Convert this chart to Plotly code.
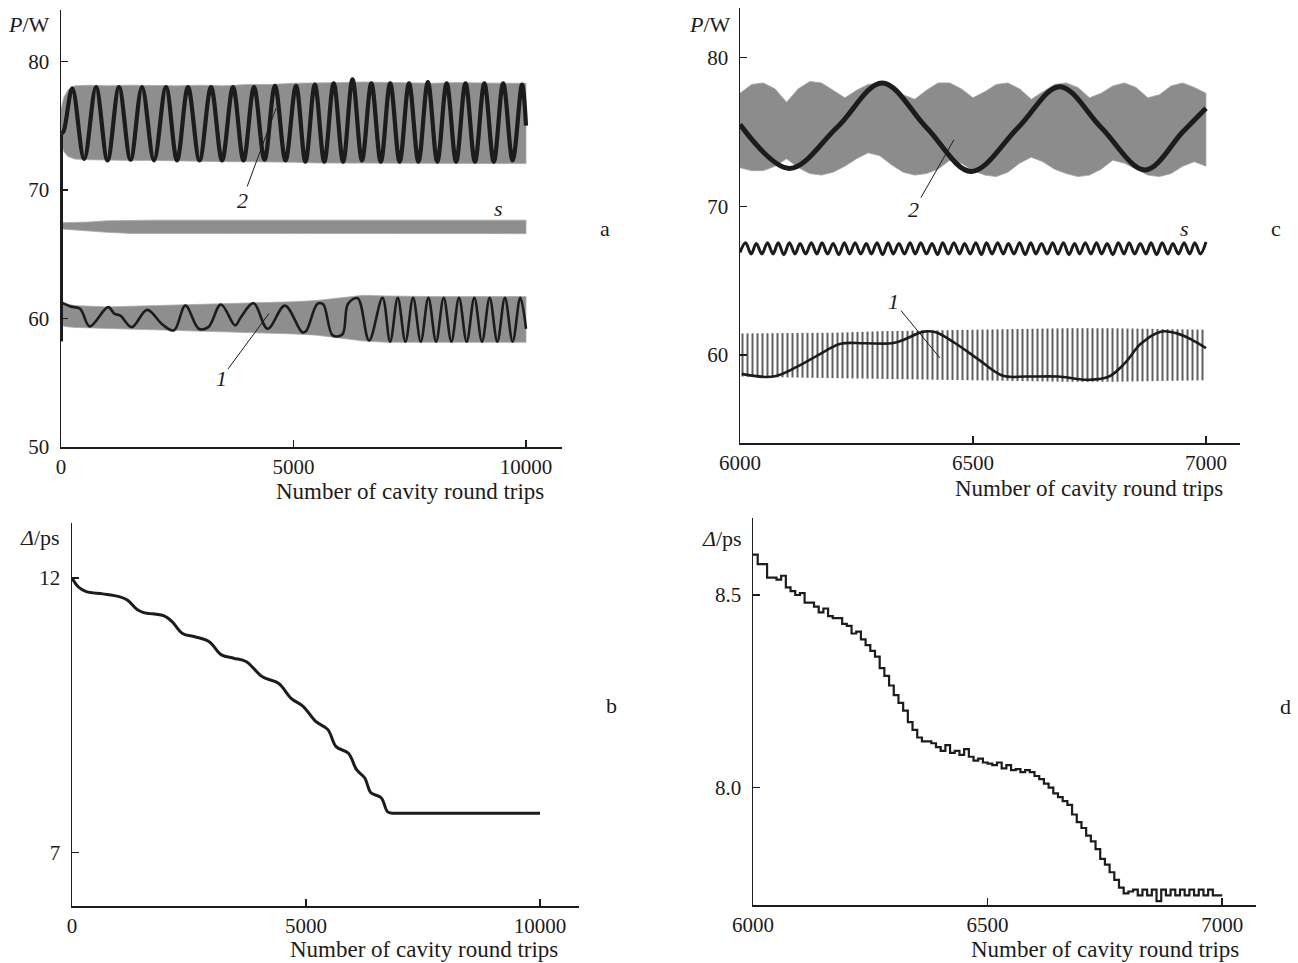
import plotly.graph_objects as go

W, H = 1298, 963

# ---------------- data: panel a (P vs round trips, 0..10000) ----------------
a_band_x = [0, 60, 150, 300, 600, 1000, 1500, 2000, 2500, 3000, 3500, 4000, 4500,
            5000, 5500, 6000, 6500, 7000, 7500, 8000, 8500, 9000, 9500, 10000]
a2_band_hi = [76.3, 77.2, 77.8, 78.1, 78.15, 78.1, 78.15, 78.1, 78.1, 78.15, 78.1, 78.2,
              78.2, 78.3, 78.3, 78.35, 78.4, 78.35, 78.35, 78.3, 78.35, 78.3, 78.3, 78.3]
a2_band_lo = [73.8, 73.0, 72.6, 72.4, 72.35, 72.3, 72.3, 72.3, 72.25, 72.25, 72.2, 72.2,
              72.2, 72.15, 72.1, 72.1, 72.1, 72.05, 72.05, 72.05, 72.05, 72.05, 72.05, 72.05]
as_band_hi = [67.45, 67.45, 67.45, 67.45, 67.5, 67.6, 67.65, 67.65, 67.65, 67.65, 67.65, 67.65,
              67.65, 67.65, 67.65, 67.65, 67.65, 67.65, 67.65, 67.65, 67.65, 67.65, 67.65, 67.65]
as_band_lo = [67.0, 66.95, 66.9, 66.9, 66.8, 66.7, 66.62, 66.6, 66.6, 66.6, 66.6, 66.6,
              66.6, 66.6, 66.6, 66.6, 66.6, 66.6, 66.6, 66.6, 66.6, 66.6, 66.6, 66.6]
a1_band_hi = [61.3, 61.2, 61.1, 61.0, 60.95, 60.9, 60.95, 61.0, 61.0, 61.1, 61.15, 61.2,
              61.25, 61.3, 61.4, 61.6, 61.8, 61.75, 61.7, 61.7, 61.7, 61.7, 61.7, 61.7]
a1_band_lo = [59.6, 59.4, 59.35, 59.3, 59.25, 59.2, 59.15, 59.1, 59.05, 59.05, 59.0, 58.95,
              58.85, 58.8, 58.7, 58.5, 58.25, 58.15, 58.15, 58.15, 58.15, 58.15, 58.15, 58.15]

a_init_x = [0, 0]
a_init_y = [58.2, 74.4]

a2_x = [15, 60, 243, 498, 753, 1000, 1247, 1495, 1742, 2000, 2258, 2495, 2731, 2979, 3226,
        3463, 3699, 3925, 4151, 4377, 4602, 4828, 5054, 5257, 5459, 5662, 5864, 6067, 6269,
        6472, 6674, 6877, 7079, 7282, 7484, 7687, 7889, 8092, 8294, 8497, 8699, 8902, 9104,
        9307, 9509, 9712, 9914, 10000]
a2_y = [74.4, 74.6, 77.9, 72.4, 78.0, 72.3, 78.0, 72.35, 78.0, 72.3, 78.0, 72.3, 78.0, 72.3, 78.0,
        72.3, 78.0, 72.3, 78.0, 72.35, 78.1, 72.3, 78.1, 72.2, 78.2, 72.2, 78.3, 72.2, 78.6,
        72.3, 78.3, 72.2, 78.3, 72.2, 78.3, 72.2, 78.4, 72.2, 78.3, 72.2, 78.3, 72.2, 78.3,
        72.2, 78.3, 72.3, 78.2, 75.0]

a1_x = [10, 206, 411, 617, 1012, 1152, 1276, 1522, 1852, 2181, 2428, 2675, 2963, 3169, 3440,
        3745, 3868, 4140, 4444, 4815, 5185, 5267, 5514, 5638, 5843, 6049, 6173, 6378, 6625,
        6913, 7078, 7242, 7407, 7572, 7737, 7901, 8066, 8230, 8395, 8559, 8724, 8889, 9054,
        9218, 9383, 9547, 9712, 9877, 10000]
a1_y = [61.25, 60.93, 60.75, 59.38, 60.88, 60.36, 60.23, 59.33, 60.67, 59.53, 59.07, 61.01, 59.2,
        59.33, 61.09, 59.46, 60.1, 61.19, 59.2, 61.0, 58.93, 59.0, 61.14, 61.1, 58.68, 58.75,
        61.14, 61.58, 58.29, 61.6, 58.2, 61.6, 58.2, 61.6, 58.2, 61.6, 58.2, 61.6, 58.2, 61.6,
        58.2, 61.6, 58.2, 61.6, 58.2, 61.6, 58.2, 61.6, 59.2]

# ---------------- data: panel c (P vs round trips, 6000..7000) ----------------
c2_band_x = [6000, 6025, 6050, 6075, 6100, 6125, 6150, 6175, 6200, 6225, 6250, 6275, 6300, 6325,
             6350, 6375, 6400, 6425, 6450, 6475, 6500, 6525, 6550, 6575, 6600, 6625, 6650, 6675,
             6700, 6725, 6750, 6775, 6800, 6825, 6850, 6875, 6900, 6925, 6950, 6975, 7000]
c2_band_hi = [77.6, 78.2, 78.3, 77.9, 77.0, 77.9, 78.4, 78.3, 77.8, 77.3, 77.8, 78.2, 78.3, 78.0,
              77.5, 77.2, 77.8, 78.3, 78.3, 77.9, 77.3, 77.7, 78.2, 78.3, 77.9, 77.2, 77.7, 78.2,
              78.3, 78.0, 77.3, 77.6, 78.1, 78.3, 78.0, 77.3, 77.5, 78.1, 78.3, 78.0, 77.6]
c2_band_lo = [72.6, 72.4, 72.4, 72.7, 73.2, 72.6, 72.2, 72.1, 72.3, 72.7, 73.2, 73.6, 73.4, 72.8,
              72.3, 72.1, 72.2, 72.5, 73.1, 72.9, 72.4, 72.1, 72.0, 72.3, 72.9, 73.3, 73.0, 72.5,
              72.2, 72.0, 72.1, 72.5, 73.1, 72.9, 72.5, 72.1, 72.0, 72.2, 72.7, 73.0, 72.7]

c1_band_x = [6000, 6100, 6200, 6300, 6400, 6500, 6600, 6700, 6800, 6900, 7000]
c1_band_hi = [61.45, 61.45, 61.5, 61.6, 61.65, 61.75, 61.8, 61.8, 61.8, 61.75, 61.7]
c1_band_lo = [58.55, 58.5, 58.45, 58.4, 58.35, 58.3, 58.25, 58.2, 58.2, 58.25, 58.3]

c2_x = [6000, 6106, 6208, 6305, 6400, 6496, 6597, 6686, 6775, 6869, 6950, 7000]
c2_y = [75.5, 72.55, 75.3, 78.3, 75.3, 72.35, 75.3, 78.05, 75.3, 72.45, 75.0, 76.6]

cs_x = [6000, 6012, 6024, 6035, 6047, 6059, 6071, 6082, 6094, 6106,
        6118, 6129, 6141, 6153, 6165, 6176, 6188, 6200, 6212, 6224,
        6235, 6247, 6259, 6271, 6282, 6294, 6306, 6318, 6329, 6341,
        6353, 6365, 6376, 6388, 6400, 6412, 6424, 6435, 6447, 6459,
        6471, 6482, 6494, 6506, 6518, 6529, 6541, 6553, 6565, 6576,
        6588, 6600, 6612, 6624, 6635, 6647, 6659, 6671, 6682, 6694,
        6706, 6718, 6729, 6741, 6753, 6765, 6776, 6788, 6800, 6812,
        6824, 6835, 6847, 6859, 6871, 6882, 6894, 6906, 6918, 6929,
        6941, 6953, 6965, 6976, 6988, 7000]
cs_y = [66.9, 67.55, 66.8, 67.5, 66.8, 67.55, 66.8, 67.55, 66.75, 67.55,
        66.8, 67.5, 66.8, 67.55, 66.8, 67.55, 66.8, 67.5, 66.75, 67.55,
        66.8, 67.55, 66.8, 67.5, 66.8, 67.55, 66.75, 67.55, 66.8, 67.5,
        66.8, 67.55, 66.8, 67.55, 66.8, 67.5, 66.75, 67.55, 66.8, 67.55,
        66.8, 67.5, 66.8, 67.55, 66.75, 67.55, 66.8, 67.55, 66.8, 67.5,
        66.8, 67.55, 66.75, 67.55, 66.8, 67.5, 66.8, 67.55, 66.8, 67.55,
        66.75, 67.5, 66.8, 67.55, 66.8, 67.55, 66.8, 67.5, 66.75, 67.55,
        66.8, 67.55, 66.8, 67.5, 66.8, 67.55, 66.75, 67.55, 66.8, 67.5,
        66.8, 67.55, 66.8, 67.55, 66.8, 67.6]

c1_x = [6004, 6072, 6123, 6165, 6216, 6267, 6326, 6347, 6394, 6420, 6462, 6513, 6564, 6614,
        6682, 6750, 6792, 6826, 6860, 6903, 6936, 6970, 7000]
c1_y = [58.73, 58.55, 59.22, 59.94, 60.75, 60.79, 60.79, 60.97, 61.57, 61.53, 60.79, 59.67,
        58.6, 58.55, 58.55, 58.33, 58.55, 59.45, 60.75, 61.57, 61.47, 61.02, 60.46]

# ---------------- data: panel b (Delta vs round trips, 0..10000) ----------------
b_x = [0, 131, 306, 656, 1006, 1181, 1400, 1531, 1969, 2143, 2362, 2625, 2931, 3193, 3456,
       3718, 4068, 4418, 4681, 4943, 5206, 5468, 5643, 5906, 6081, 6256, 6387, 6606, 6737,
       6824, 7000, 7500, 8000, 8500, 9000, 9500, 10000]
b_y = [12.0, 11.84, 11.75, 11.71, 11.66, 11.6, 11.42, 11.37, 11.31, 11.2, 10.99, 10.93, 10.84,
       10.6, 10.54, 10.48, 10.2, 10.08, 9.81, 9.66, 9.39, 9.24, 8.93, 8.81, 8.51, 8.36, 8.09,
       8.0, 7.75, 7.72, 7.72, 7.72, 7.72, 7.72, 7.72, 7.72, 7.72]

# ---------------- data: panel d (Delta vs round trips, 6000..7000) ----------------
d_x = list(range(6000, 7001, 10))
d_y = [8.605, 8.58, 8.58, 8.545, 8.545, 8.54, 8.55, 8.52, 8.51, 8.50,
       8.505, 8.48, 8.48, 8.47, 8.455, 8.465, 8.445, 8.44, 8.44, 8.425,
       8.42, 8.40, 8.405, 8.385, 8.37, 8.355, 8.34, 8.31, 8.29, 8.265,
       8.24, 8.22, 8.20, 8.17, 8.15, 8.13, 8.12, 8.12, 8.115, 8.105,
       8.095, 8.11, 8.09, 8.095, 8.085, 8.10, 8.08, 8.07, 8.075, 8.065,
       8.062, 8.058, 8.065, 8.05, 8.058, 8.045, 8.048, 8.04, 8.045, 8.04,
       8.03, 8.022, 8.01, 8.0, 7.985, 7.975, 7.965, 7.955, 7.93, 7.91,
       7.895, 7.875, 7.86, 7.84, 7.815, 7.80, 7.78, 7.76, 7.74, 7.725,
       7.73, 7.735, 7.72, 7.735, 7.72, 7.735, 7.705, 7.735, 7.72, 7.735,
       7.72, 7.735, 7.72, 7.735, 7.72, 7.735, 7.72, 7.735, 7.72, 7.72,
       7.72]

# tick values and labels
a_xticks = [0, 5000, 10000]
a_xlabels = ["0", "5000", "10000"]
a_yticks = [50, 60, 70, 80]
c_xticks = [6000, 6500, 7000]
c_yticks = [60, 70, 80]
b_xticks = [0, 5000, 10000]
b_xlabels = ["0", "5000", "10000"]
b_yticks = [7, 12]
d_xticks = [6000, 6500, 7000]
d_yticks = [8.0, 8.5]
d_ylabels = ["8.0", "8.5"]

GRAY = "#8e8e8e"
EDGE = "#a9a9a9"
INK = "#1c1c1c"
FONT = "Liberation Serif"

fig = go.Figure()


def band(xs, hi, lo, xa, ya, fillcolor=GRAY, edge=EDGE, pattern=None):
    kw = dict(x=list(xs) + list(xs)[::-1], y=list(hi) + list(lo)[::-1], mode="lines",
              fill="toself", line=dict(color=edge, width=0.8), xaxis=xa, yaxis=ya,
              hoverinfo="skip", showlegend=False)
    if pattern is not None:
        kw["fillpattern"] = pattern
        kw["fillcolor"] = "rgba(0,0,0,0)"
    else:
        kw["fillcolor"] = fillcolor
    fig.add_trace(go.Scatter(**kw))


def curve(xs, ys, xa, ya, width, shape="spline", color=INK):
    fig.add_trace(go.Scatter(x=xs, y=ys, mode="lines", xaxis=xa, yaxis=ya,
                             line=dict(color=color, width=width, shape=shape,
                                       **({"smoothing": 1.0} if shape == "spline" else {})),
                             hoverinfo="skip", showlegend=False))


# panel a
band(a_band_x, a2_band_hi, a2_band_lo, "x", "y")
band(a_band_x, as_band_hi, as_band_lo, "x", "y")
band(a_band_x, a1_band_hi, a1_band_lo, "x", "y")
curve(a_init_x, a_init_y, "x", "y", 4, shape="linear")
curve(a2_x, a2_y, "x", "y", 4.2)
curve(a1_x, a1_y, "x", "y", 2.6)

# panel c
band(c2_band_x, c2_band_hi, c2_band_lo, "x2", "y2", fillcolor="#8c8c8c", edge="#a3a3a3")
band(c1_band_x, c1_band_hi, c1_band_lo, "x2", "y2", edge="rgba(0,0,0,0)",
     pattern=dict(shape="|", fgcolor="#5f5f5f", bgcolor="white", size=5, solidity=0.4,
                  fillmode="replace"))
curve(c2_x, c2_y, "x2", "y2", 5)
curve(cs_x, cs_y, "x2", "y2", 3)
curve(c1_x, c1_y, "x2", "y2", 2.6)

# panel b
curve(b_x, b_y, "x3", "y3", 3.0)

# panel d
curve(d_x, d_y, "x4", "y4", 2.2, shape="hv")


def px_dom_x(a, b):
    return [a / W, b / W]


def px_dom_y(top, bottom):
    return [1 - bottom / H, 1 - top / H]


axis_common = dict(showline=True, linecolor=INK, linewidth=1.5, ticks="inside", ticklen=7,
                   tickwidth=1.5, tickcolor=INK, showgrid=False, zeroline=False,
                   automargin=False,
                   tickfont=dict(family=FONT, size=21, color=INK), fixedrange=True)
xstyle = dict(axis_common, ticklabelstandoff=0)
ystyle = dict(axis_common, ticklabelstandoff=6)

fig.update_layout(
    width=W, height=H, margin=dict(l=0, r=0, t=0, b=0, autoexpand=False),
    font=dict(family=FONT, color=INK),
    paper_bgcolor="white", plot_bgcolor="white", showlegend=False,
    xaxis=dict(domain=px_dom_x(61, 562), range=[0, 10774], tickvals=a_xticks,
               ticktext=a_xlabels, anchor="y", **xstyle),
    yaxis=dict(domain=px_dom_y(10, 447), range=[50, 84], tickvals=a_yticks, anchor="x",
               **ystyle),
    xaxis2=dict(domain=px_dom_x(740, 1240), range=[6000, 7073], tickvals=c_xticks, anchor="y2",
                **xstyle),
    yaxis2=dict(domain=px_dom_y(8, 443), range=[54.08, 83.34], tickvals=c_yticks, anchor="x2",
                **ystyle),
    xaxis3=dict(domain=px_dom_x(72, 579), range=[0, 10833], tickvals=b_xticks,
                ticktext=b_xlabels, anchor="y3", **xstyle),
    yaxis3=dict(domain=px_dom_y(523, 906), range=[6.03, 13], tickvals=b_yticks, anchor="x3",
                **ystyle),
    xaxis4=dict(domain=px_dom_x(753, 1256), range=[6000, 7072], tickvals=d_xticks, anchor="y4",
                **xstyle),
    yaxis4=dict(domain=px_dom_y(518, 905), range=[7.695, 8.70], tickvals=d_yticks,
                ticktext=d_ylabels, anchor="x4", **ystyle),
)

ann = []


def text(x_px, y_px, s, size=22, xanchor="center"):
    ann.append(dict(x=x_px / W, y=1 - y_px / H, xref="paper", yref="paper", text=s,
                    showarrow=False, xanchor=xanchor, yanchor="middle",
                    font=dict(family=FONT, size=size, color=INK)))


# axis titles
text(546, 492, "Number of cavity round trips", size=23, xanchor="right")
text(1225, 488, "Number of cavity round trips", size=23, xanchor="right")
text(560, 949, "Number of cavity round trips", size=23, xanchor="right")
text(1241, 949, "Number of cavity round trips", size=23, xanchor="right")
# y labels
text(29, 24, "<i>P</i>/W")
text(710, 24, "<i>P</i>/W")
text(40, 537, "<i>Δ</i>/ps")
text(722, 538, "<i>Δ</i>/ps")
# panel letters
text(605, 228, "a")
text(1276, 228, "c")
text(611, 705, "b")
text(1285, 706, "d")
# curve tags
text(498, 208, "<i>s</i>")
text(1184, 228, "<i>s</i>")


def leader(xd, yd, xa, ya, ax, ay, label):
    ann.append(dict(x=xd, y=yd, xref=xa, yref=ya, text=label, showarrow=True, arrowhead=0,
                    arrowwidth=1, arrowcolor=INK, ax=ax, ay=ay, standoff=0,
                    font=dict(family=FONT, size=22, color=INK)))


leader(4624, 76.34, "x", "y", -34, 92, "<i>2</i>")
leader(4473, 60.39, "x", "y", -48, 65, "<i>1</i>")
leader(6459, 74.47, "x2", "y2", -40, 70, "<i>2</i>")
leader(6429, 59.8, "x2", "y2", -46, -56, "<i>1</i>")

fig.update_layout(annotations=ann)

fig.write_html("out.html", config={"displayModeBar": False, "staticPlot": True})
